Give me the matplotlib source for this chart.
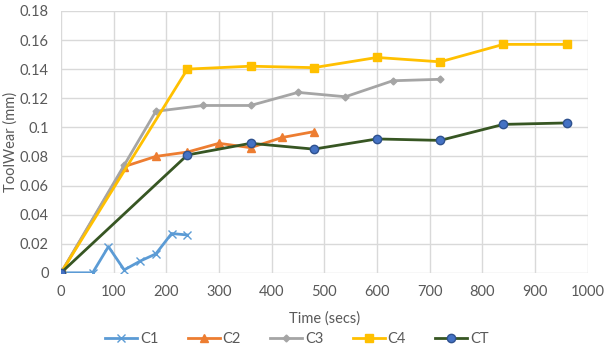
import matplotlib.pyplot as plt

# data
c1_t = [0, 60, 90, 120, 150, 180, 210, 240]
c1_w = [0, 0, 0.018, 0.002, 0.008, 0.013, 0.027, 0.026]

c2_t = [0, 120, 180, 240, 300, 360, 420, 480]
c2_w = [0, 0.073, 0.080, 0.083, 0.089, 0.086, 0.093, 0.097]

c3_t = [0, 120, 180, 270, 360, 450, 540, 630, 720]
c3_w = [0, 0.074, 0.111, 0.115, 0.115, 0.124, 0.121, 0.132, 0.133]

c4_t = [0, 240, 360, 480, 600, 720, 840, 960]
c4_w = [0, 0.140, 0.142, 0.141, 0.148, 0.145, 0.157, 0.157]

ct_t = [0, 240, 360, 480, 600, 720, 840, 960]
ct_w = [0, 0.081, 0.089, 0.085, 0.092, 0.091, 0.102, 0.103]

plt.rcParams['font.family'] = ['Lato', 'DejaVu Sans']

fig = plt.figure(figsize=(6.06, 3.52), dpi=100)
ax = fig.add_axes([0.1007, 0.225, 0.869, 0.744])

ax.plot(c1_t, c1_w, color="#5B9BD5", lw=2, marker="x", ms=6, mew=1, label="C1")
ax.plot(c2_t, c2_w, color="#ED7D31", lw=2, marker="^", ms=5.5, label="C2")
ax.plot(c3_t, c3_w, color="#A5A5A5", lw=2, marker="D", ms=3.5, label="C3")
ax.plot(c4_t, c4_w, color="#FFC000", lw=2, marker="s", ms=6, label="C4")
ax.plot(ct_t, ct_w, color="#375623", lw=2, marker="o", ms=6,
        mfc="#4472C4", mec="#2F528F", label="CT")

ax.set_xlim(0, 1000)
ax.set_ylim(0, 0.18)
ax.set_xticks(range(0, 1001, 100))
ax.set_yticks([0, 0.02, 0.04, 0.06, 0.08, 0.1, 0.12, 0.14, 0.16, 0.18])
ax.set_yticklabels(["0", "0.02", "0.04", "0.06", "0.08", "0.1", "0.12",
                    "0.14", "0.16", "0.18"])

ax.grid(True, color="#D9D9D9", lw=1)
ax.set_axisbelow(True)
for s in ax.spines.values():
    s.set_visible(False)
ax.tick_params(length=0, colors="#595959", labelsize=10.5, pad=9)

ax.set_xlabel("Time (secs)", color="#595959", fontsize=10.5, labelpad=9)
ax.set_ylabel("ToolWear (mm)", color="#595959", fontsize=10.5)
ax.yaxis.set_label_coords(-0.083, 0.5)

fig.legend(loc="lower center", ncol=5, bbox_to_anchor=(0.49, -0.02),
           frameon=False, fontsize=10.5, labelcolor="#595959",
           handlelength=2.2, columnspacing=2.0, handletextpad=0.2)

plt.savefig("out.png", dpi=100)
